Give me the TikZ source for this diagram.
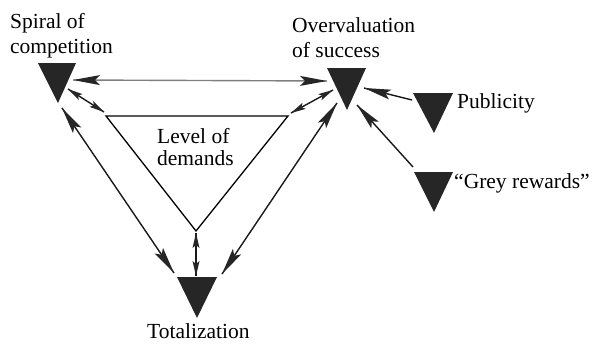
\documentclass[tikz,border=0pt]{standalone}
\usepackage{fontspec}
\setmainfont{Liberation Serif}
\usetikzlibrary{calc}
\tikzset{
  lbl/.style={inner sep=0pt, align=left, font=\fontsize{21.5}{24.5}\selectfont},
  blk/.style={fill=black!85},
  conn/.style={line width=1.4pt, black!90},
}
% dart arrowhead: tip, toward, length, half width, notch depth
\newcommand\dartat[5]{%
  \coordinate (dB) at ($(#1)!#3!(#2)$);
  \coordinate (dN) at ($(#1)!#5!(#2)$);
  \fill[blk] (#1) -- ($(dB)!#4!90:(#1)$) -- (dN) -- ($(dB)!#4!-90:(#1)$) -- cycle;
}
\newcommand\bigdart[2]{\dartat{#1}{#2}{27pt}{5pt}{22pt}}
\newcommand\smldart[2]{\dartat{#1}{#2}{15pt}{3.5pt}{12pt}}
\begin{document}
\begin{tikzpicture}[x=1pt,y=-1pt]
\useasboundingbox (0,0) rectangle (597,343);
% filled triangles
\fill[blk] (38,63) -- (76,63) -- (58,103) -- cycle;
\fill[blk] (327,68) -- (366,68) -- (347,110) -- cycle;
\fill[blk] (413,93) -- (453,93) -- (434,133) -- cycle;
\fill[blk] (414,172) -- (453,172) -- (434,212) -- cycle;
\fill[blk] (177,277) -- (217,277) -- (197,318) -- cycle;
% level of demands triangle
\draw[line width=1.3pt] (106,116) coordinate (lvL) -- (288,116) coordinate (lvR) -- (196,231) coordinate (lvB) -- cycle;
% connector end points
\coordinate (spH) at (73,80);
\coordinate (ovH) at (327,81);
\coordinate (spS) at (68,89);
\coordinate (lvLs) at (104,112);
\coordinate (lvRs) at (291,113);
\coordinate (ovS) at (333,90);
\coordinate (spT) at (62,108);
\coordinate (toL) at (174,273);
\coordinate (ovT) at (337,103);
\coordinate (toR) at (222,274);
\coordinate (lvBs) at (196,233);
\coordinate (toT) at (196,276);
\coordinate (pubS) at (412,100);
\coordinate (ovP) at (364,88);
\coordinate (greyS) at (413,167);
\coordinate (ovG) at (357,105);
% connectors
\draw[conn, black!50] (spH) -- (ovH);
\bigdart{spH}{ovH} \bigdart{ovH}{spH}
\draw[conn] (spS) -- (lvLs);
\smldart{spS}{lvLs} \smldart{lvLs}{spS}
\draw[conn] (lvRs) -- (ovS);
\smldart{lvRs}{ovS} \smldart{ovS}{lvRs}
\draw[conn] (spT) -- (toL);
\bigdart{spT}{toL} \bigdart{toL}{spT}
\draw[conn] (ovT) -- (toR);
\bigdart{ovT}{toR} \bigdart{toR}{ovT}
\draw[conn] (lvBs) -- (toT);
\smldart{lvBs}{toT} \smldart{toT}{lvBs}
\draw[conn] (pubS) -- (ovP);
\bigdart{ovP}{pubS}
\draw[conn] (greyS) -- (ovG);
\bigdart{ovG}{greyS}
% labels
\node[lbl, anchor=base west] (spiral) at (10,53) {Spiral of\\competition};
\node[lbl, anchor=base west] (over) at (292,57) {Overvaluation\\of success};
\node[lbl, anchor=base west] (pub) at (457,108) {Publicity};
\node[lbl, anchor=base west] (grey) at (454,188) {“Grey rewards”};
\node[lbl, anchor=base west, font=\fontsize{21.5}{22}\selectfont] (level) at (157,165) {Level of\\demands};
\node[lbl, anchor=base west] (total) at (147,338) {Totalization};
\end{tikzpicture}
\end{document}
